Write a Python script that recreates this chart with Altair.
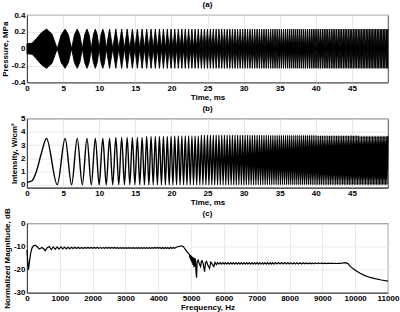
import altair as alt
import pandas as pd

# ---- Panels (a) and (b): beat peaks / troughs (ms) ----
peak_ms = [2.699, 5.278, 6.960, 8.307, 9.465, 10.496, 11.434, 12.301, 13.111, 13.873,
           14.596, 15.284, 15.943, 16.576, 17.185, 17.774, 18.344, 18.896, 19.433, 19.955,
           20.464, 20.961, 21.446, 21.921, 22.385, 22.840, 23.286, 23.724, 24.154, 24.576,
           24.991, 25.399, 25.801, 26.197, 26.587, 26.971, 27.350, 27.723, 28.092, 28.456,
           28.815, 29.170, 29.521, 29.867, 30.209, 30.548, 30.883, 31.214, 31.542, 31.867,
           32.188, 32.506, 32.821, 33.133, 33.442, 33.748, 34.052, 34.352, 34.650, 34.946,
           35.239, 35.530, 35.818, 36.104, 36.388, 36.670, 36.950, 37.227, 37.502, 37.776,
           38.047, 38.316, 38.584, 38.850, 39.113, 39.376, 39.636, 39.895, 40.152, 40.407,
           40.661, 40.913, 41.164, 41.413, 41.661, 41.907, 42.152, 42.395, 42.637, 42.878,
           43.117, 43.355, 43.591, 43.827, 44.061, 44.294, 44.525, 44.756, 44.985, 45.213,
           45.440, 45.666, 45.891, 46.114, 46.337, 46.559, 46.779, 46.999, 47.217, 47.434,
           47.651, 47.866, 48.080, 48.294, 48.507, 48.718, 48.929, 49.139, 49.348, 49.556,
           49.763, 49.969]
trough_ms = [4.192, 6.176, 7.663, 8.905, 9.994, 10.975, 11.875, 12.712, 13.497, 14.239,
             14.944, 15.617, 16.263, 16.883, 17.482, 18.061, 18.622, 19.166, 19.696, 20.211,
             20.714, 21.205, 21.685, 22.154, 22.614, 23.064, 23.506, 23.940, 24.366, 24.784,
             25.196, 25.601, 26.000, 26.393, 26.779, 27.161, 27.537, 27.908, 28.274, 28.636,
             28.993, 29.346, 29.694, 30.038, 30.379, 30.716, 31.049, 31.379, 31.705, 32.028,
             32.347, 32.664, 32.977, 33.288, 33.595, 33.900, 34.202, 34.502, 34.799, 35.093,
             35.385, 35.674, 35.962, 36.247, 36.530, 36.810, 37.089, 37.365, 37.639, 37.912,
             38.182, 38.450, 38.717, 38.982, 39.245, 39.506, 39.766, 40.023, 40.279, 40.534,
             40.787, 41.039, 41.289, 41.537, 41.784, 42.030, 42.274, 42.516, 42.758, 42.998,
             43.236, 43.473, 43.709, 43.944, 44.177, 44.410, 44.641, 44.871, 45.099, 45.327,
             45.553, 45.778, 46.003, 46.226, 46.448, 46.669, 46.889, 47.108, 47.326, 47.543,
             47.759, 47.973, 48.187, 48.400, 48.612, 48.824, 49.034, 49.243, 49.452, 49.660,
             49.866]

# start of the record (before the first beat peak)
start_ms = [0.0, 0.7, 1.3, 2.0]
start_intensity = [0.18, 0.30, 1.0, 2.4]      # W/cm^2
start_pressure = [0.06, 0.065, 0.12, 0.19]     # MPa envelope

# lens-shaped flanks of the first pressure lobes (ms, MPa)
shoulder_ms = [3.45, 4.74, 5.73, 6.57, 7.31, 7.99, 8.61, 9.19, 9.73, 10.25, 10.74]
shoulder_mpa = [0.175, 0.165, 0.165, 0.165, 0.165, 0.165, 0.165, 0.165, 0.165, 0.165, 0.165]

# peak intensity level read by time range
level_start_ms = [0, 12, 16, 20, 24, 40, 46]
level_intensity = [3.5, 3.58, 3.65, 3.7, 3.75, 3.72, 3.68]
trough_intensity = 0.0
peak_pressure = 0.233   # MPa
trough_pressure = 0.0

# ---- Panel (c): spectrum (Hz, dB) ----
spec_low = [(0, -11.5), (25, -17.0), (45, -20.0), (80, -16.0), (110, -13.0), (150, -10.8),
            (190, -9.8), (250, -9.4), (310, -10.1), (375, -11.1), (415, -10.8), (455, -10.4),
            (515, -11.1), (555, -11.8)]
spec_band1 = [(617, -10.5), (677, -10.0), (738, -11.3), (800, -10.2), (860, -11.2), (918, -10.2),
              (975, -11.1), (1032, -10.2), (1088, -11.05), (1143, -10.25), (1197, -11.0),
              (1250, -10.3), (1303, -10.95), (1355, -10.3), (1407, -10.9), (1458, -10.35),
              (1509, -10.9), (1560, -10.35), (1610, -10.85), (1660, -10.4), (1710, -10.85),
              (1759, -10.4), (1808, -10.8), (1857, -10.4), (1905, -10.8), (1953, -10.45),
              (2000, -10.8), (2047, -10.45), (2094, -10.8), (2140, -10.45), (2186, -10.75),
              (2232, -10.45), (2277, -10.75), (2322, -10.45), (2367, -10.75), (2411, -10.45),
              (2455, -10.75), (2499, -10.45), (2543, -10.75), (2586, -10.45), (2629, -10.75),
              (2672, -10.45), (2715, -10.75), (2757, -10.5), (2799, -10.75), (2841, -10.5),
              (2883, -10.75), (2925, -10.5), (2966, -10.75), (3007, -10.5), (3048, -10.75),
              (3089, -10.5), (3130, -10.75), (3170, -10.5), (3210, -10.75), (3250, -10.5),
              (3290, -10.75), (3330, -10.5), (3370, -10.75), (3410, -10.5), (3450, -10.75),
              (3490, -10.5), (3530, -10.75), (3570, -10.5), (3610, -10.75), (3650, -10.5),
              (3690, -10.75), (3730, -10.5), (3770, -10.75), (3810, -10.5), (3850, -10.8),
              (3890, -10.45), (3930, -10.8), (3970, -10.45), (4010, -10.8), (4050, -10.45),
              (4090, -10.85), (4130, -10.4), (4170, -10.85), (4210, -10.4), (4250, -10.85),
              (4290, -10.4), (4330, -10.9), (4370, -10.35), (4410, -10.85), (4450, -10.4),
              (4490, -10.8)]
spec_edge = [(4550, -10.3), (4620, -10.0), (4700, -9.7), (4760, -10.0), (4830, -11.4),
             (4880, -12.3), (4930, -13.2), (4950, -13.4), (4965, -15.0), (4980, -13.6),
             (4995, -16.0), (5010, -14.0), (5025, -17.0), (5040, -14.5), (5055, -18.0),
             (5070, -14.8), (5085, -19.0), (5100, -15.0), (5115, -18.5), (5130, -15.2),
             (5150, -21.0), (5167, -23.5), (5185, -16.5), (5216, -15.9), (5250, -17.5),
             (5289, -18.7), (5315, -16.3), (5337, -16.2), (5370, -17.5), (5410, -20.9),
             (5440, -17.0), (5470, -16.5), (5510, -18.0), (5562, -19.5), (5600, -16.8),
             (5640, -17.5), (5693, -18.7), (5730, -16.9), (5770, -17.8), (5810, -16.9),
             (5850, -17.6), (5890, -16.95)]
spec_band2 = [(5930, -17.6), (5970, -17.0), (6010, -17.6), (6050, -17.0), (6090, -17.6),
              (6130, -17.0), (6170, -17.6), (6210, -17.0), (6250, -17.6), (6290, -17.0),
              (6330, -17.6), (6370, -17.0), (6410, -17.6), (6450, -17.0), (6490, -17.6),
              (6530, -17.0), (6570, -17.6), (6610, -17.0), (6650, -17.6), (6690, -17.0),
              (6730, -17.6), (6770, -17.0), (6810, -17.6), (6850, -17.0), (6890, -17.6),
              (6930, -17.0), (6970, -17.6), (7010, -17.0), (7050, -17.6), (7090, -17.0),
              (7130, -17.6), (7170, -17.0), (7210, -17.6), (7250, -17.0), (7290, -17.6),
              (7330, -17.0), (7370, -17.6), (7410, -17.0), (7450, -17.6), (7490, -17.0),
              (7530, -17.6), (7570, -17.0), (7617, -17.6), (7664, -17.0), (7711, -17.6),
              (7758, -17.0), (7805, -17.6), (7852, -17.0), (7899, -17.6), (7946, -17.0),
              (7993, -17.6), (8040, -17.0), (8087, -17.55), (8134, -17.05), (8181, -17.55),
              (8228, -17.05), (8275, -17.55), (8322, -17.05), (8369, -17.55), (8416, -17.05),
              (8463, -17.5), (8510, -17.1), (8557, -17.5), (8604, -17.1), (8651, -17.5),
              (8698, -17.1), (8745, -17.45), (8792, -17.15), (8839, -17.45), (8886, -17.15),
              (8933, -17.45), (8980, -17.15), (9030, -17.4), (9080, -17.2), (9130, -17.4),
              (9180, -17.2), (9230, -17.35), (9280, -17.2), (9330, -17.35), (9380, -17.25),
              (9430, -17.35), (9480, -17.25), (9530, -17.3)]
spec_tail = [(9600, -17.2), (9700, -17.0), (9780, -17.4), (9850, -18.6), (9950, -19.7),
             (10050, -20.7), (10150, -21.6), (10300, -22.6), (10450, -23.4), (10600, -23.9),
             (10800, -24.5), (11000, -25.0)]

time_ticks = [0, 5, 10, 15, 20, 25, 30, 35, 40, 45]
pressure_ticks = [-0.4, -0.2, 0, 0.2, 0.4]
intensity_ticks = [0, 1, 2, 3, 4, 5]
freq_ticks = [0, 1000, 2000, 3000, 4000, 5000, 6000, 7000, 8000, 9000, 10000, 11000]
db_ticks = [-30, -20, -10, 0]


def level_for(t):
    lvl = level_intensity[0]
    for s, v in zip(level_start_ms, level_intensity):
        if t >= s:
            lvl = v
    return lvl


rows_b = [{"t": t, "I": v} for t, v in zip(start_ms, start_intensity)]
rows_b += [{"t": t, "I": level_for(t)} for t in peak_ms]
rows_b += [{"t": t, "I": trough_intensity} for t in trough_ms]
df_b = pd.DataFrame(rows_b).sort_values("t").reset_index(drop=True)

rows_a = [{"t": t, "p": v} for t, v in zip(start_ms, start_pressure)]
rows_a += [{"t": t, "p": v} for t, v in zip(shoulder_ms, shoulder_mpa)]
rows_a += [{"t": t, "p": peak_pressure} for t in peak_ms]
rows_a += [{"t": t, "p": trough_pressure} for t in trough_ms]
df_a = pd.DataFrame(rows_a).sort_values("t").reset_index(drop=True)
df_a["n"] = -df_a["p"]

spec = spec_low + spec_band1 + spec_edge + spec_band2 + spec_tail
df_c = pd.DataFrame(spec, columns=["f", "db"])

FONT = "Liberation Sans"
W = 361


def title(txt, dy=0):
    return alt.TitleParams(txt, font=FONT, fontSize=8, fontWeight="bold", color="black",
                           offset=2, anchor="middle", frame="group", dy=dy)


def xaxis(values, ttl, fmt="d"):
    return alt.Axis(values=values, title=ttl, format=fmt, labelFlush=False, ticks=False,
                    labelPadding=2, titlePadding=1)


panel_a = alt.Chart(df_a, title=title("(a)")).mark_area(
    color="black", interpolate="linear", stroke="black", strokeWidth=0.9
).encode(
    x=alt.X("t:Q", scale=alt.Scale(domain=[0, 50], nice=False, zero=False),
            axis=xaxis(time_ticks, "Time, ms")),
    y=alt.Y("p:Q", scale=alt.Scale(domain=[-0.4, 0.4], nice=False),
            axis=alt.Axis(values=pressure_ticks, title="Pressure, MPa", ticks=False,
                          labelPadding=2, titlePadding=2,
                          labelExpr="datum.value == 0 ? '0' : (datum.value < 0 ? '-' + format(-datum.value, '.1f') : format(datum.value, '.1f'))")),
    y2="n:Q",
).properties(width=W, height=67.4)

panel_b = alt.Chart(df_b, title=title("(b)")).mark_line(
    color="black", interpolate="monotone", strokeWidth=1.4
).encode(
    x=alt.X("t:Q", scale=alt.Scale(domain=[0, 50], nice=False, zero=False),
            axis=xaxis(time_ticks, "Time, ms")),
    y=alt.Y("I:Q", scale=alt.Scale(domain=[-0.227, 5], nice=False, zero=False),
            axis=alt.Axis(values=intensity_ticks, title="Intensity, W/cm²", ticks=False,
                          format="d", labelPadding=2, titlePadding=2)),
).properties(width=W, height=69)

panel_c = alt.Chart(df_c, title=title("(c)", dy=12)).mark_line(
    color="black", interpolate="linear", strokeWidth=1.2
).encode(
    x=alt.X("f:Q", scale=alt.Scale(domain=[0, 11000], nice=False, zero=False),
            axis=xaxis(freq_ticks, "Frequency, Hz")),
    y=alt.Y("db:Q", scale=alt.Scale(domain=[-30, 0], nice=False),
            axis=alt.Axis(values=db_ticks, title="Normalized Magnitude, dB", ticks=False,
                          labelPadding=2, titlePadding=2,
                          labelExpr="datum.value < 0 ? '-' + format(-datum.value, 'd') : format(datum.value, 'd')")),
).properties(width=W, height=69.3)

chart = alt.vconcat(panel_a, panel_b, panel_c, spacing=35.7, bounds="flush").properties(
    padding={"left": 0, "top": 0, "right": 0, "bottom": 0}
).configure(
    background="white",
    font=FONT,
).configure_view(
    stroke="#222222", strokeWidth=0.8,
).configure_axis(
    labelFont=FONT, labelFontSize=8, labelFontWeight="bold", labelColor="black",
    titleFont=FONT, titleFontSize=8, titleFontWeight="bold", titleColor="black",
    grid=True, gridColor="#e3e3e3", gridWidth=0.8,
    domainColor="#222222", domainWidth=0.8,
)

chart.save("out.html", embed_options={"renderer": "svg", "actions": False})
